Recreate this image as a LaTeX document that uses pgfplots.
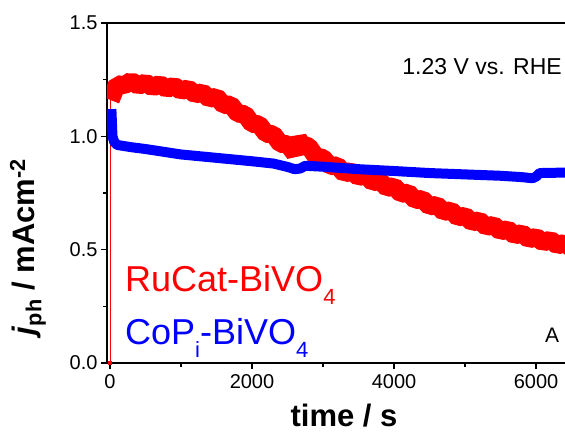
\documentclass[border=0pt]{standalone}
\usepackage{pgfplots}
\pgfplotsset{compat=1.18}
\usepackage{fontspec}
\setmainfont{Liberation Sans}
\begin{document}
\begin{tikzpicture}
\begin{axis}[
  at={(0,0)}, anchor=south west,
  width=470pt, height=340pt, scale only axis,
  xmin=-42, xmax=6577, ymin=0, ymax=1.5,
  xtick={0,2000,4000,6000}, ytick={0,0.5,1,1.5},
  minor x tick num=1, minor y tick num=1,
  tick pos=left, tick align=outside,
  major tick length=6pt, minor tick length=4pt,
  every tick/.style={black, line width=1.2pt},
  axis line style={line width=1.4pt},
  /pgf/number format/assume math mode=true,
  xticklabel style={font=\fontsize{20}{24}\selectfont, yshift=-2pt, /pgf/number format/set thousands separator={}},
  yticklabel style={font=\fontsize{20}{24}\selectfont, /pgf/number format/fixed, /pgf/number format/fixed zerofill, /pgf/number format/precision=1},
  clip=true,
]
\addplot[red, line width=0.8pt] coordinates {(0,0) (0,1.17)};
\addplot[red, only marks, mark=square*, mark size=1.6pt] coordinates {(0,0)};
\addplot[red, line width=18pt, line join=bevel] coordinates {
(10,1.16) (100,1.23) (200,1.225) (300,1.245) (400,1.222) (500,1.238) (600,1.215)
(700,1.232) (800,1.208) (900,1.224) (1000,1.2) (1100,1.212) (1200,1.184)
(1300,1.195) (1400,1.165) (1500,1.175) (1600,1.138) (1700,1.14) (1800,1.1)
(1900,1.098) (2000,1.055) (2100,1.053) (2200,1.011) (2300,1.009) (2400,0.967)
(2500,0.965) (2600,0.925) (2650,0.99) (2700,0.965) (2800,0.955) (2900,0.91)
(3000,0.905) (3100,0.868) (3200,0.872) (3300,0.835) (3400,0.848) (3500,0.82)
(3600,0.83) (3700,0.797) (3800,0.805) (3900,0.772) (4000,0.78) (4100,0.746)
(4200,0.752) (4300,0.718) (4400,0.724) (4500,0.69) (4600,0.698) (4700,0.666)
(4800,0.674) (4900,0.642) (5000,0.65) (5100,0.62) (5200,0.63) (5300,0.6)
(5400,0.61) (5500,0.58) (5600,0.591) (5700,0.562) (5800,0.574) (5900,0.545)
(6000,0.557) (6100,0.531) (6200,0.545) (6300,0.518) (6400,0.53) (6500,0.505)
(6600,0.52)};
\addplot[blue, line width=10pt, line join=round] coordinates {
(20,1.12) (35,1.0) (60,0.975) (100,0.962) (300,0.952) (500,0.944) (750,0.932)
(1000,0.92) (1500,0.905) (2000,0.89) (2300,0.88) (2500,0.865) (2600,0.855)
(2680,0.858) (2750,0.87) (3000,0.866) (3500,0.855) (4000,0.847) (4500,0.838)
(5000,0.832) (5500,0.826) (5800,0.82) (5950,0.815) (6000,0.822) (6050,0.838)
(6400,0.84) (6600,0.84)};
\end{axis}
\draw[line width=1.4pt] (0,340pt) -- (470pt,340pt);
\node[anchor=base, font=\fontsize{31}{36}\selectfont\bfseries] at (237pt,-64pt) {time / s};
\node[rotate=90, anchor=center, font=\fontsize{31}{36}\selectfont\bfseries] at (-79pt,116pt)
  {\textit{j}\textsubscript{ph} / mAcm\textsuperscript{-2}};
\node[anchor=base west, text=red, font=\fontsize{36}{40}\selectfont, inner sep=0pt] at (18pt,71pt)
  {RuCat-BiVO\raisebox{-0.35em}{\fontsize{22}{22}\selectfont 4}};
\node[anchor=base west, text=blue, font=\fontsize{36}{40}\selectfont, inner sep=0pt] at (18pt,18pt)
  {CoP\raisebox{-0.35em}{\fontsize{22}{22}\selectfont i}-BiVO\raisebox{-0.35em}{\fontsize{22}{22}\selectfont 4}};
\node[anchor=base east, font=\fontsize{23}{27}\selectfont, inner sep=0pt] at (455pt,288pt) {1.23 V vs. RHE};
\node[anchor=base west, font=\fontsize{21}{25}\selectfont, inner sep=0pt] at (438pt,20pt) {A};
\pgfresetboundingbox
\path (-107pt,-72pt) rectangle (458pt,363pt);
\end{tikzpicture}
\end{document}
